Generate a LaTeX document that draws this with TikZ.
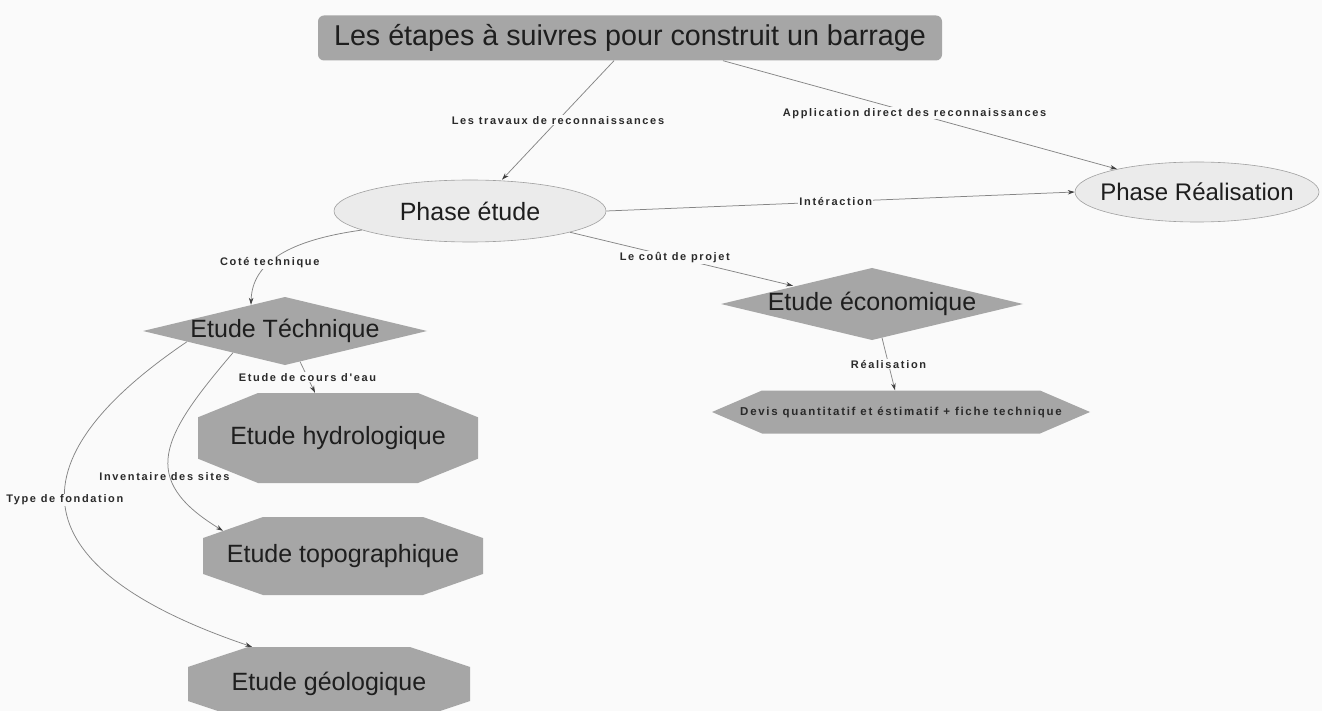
\documentclass[tikz,border=0pt]{standalone}
\usepackage{fontspec}
\setmainfont{Liberation Sans}
\newfontfamily\lblfont[LetterSpace=15]{Liberation Sans}
\usetikzlibrary{shapes.geometric,arrows.meta,calc}
\definecolor{bgc}{HTML}{FAFAFA}
\definecolor{boxfill}{HTML}{A6A6A6}
\definecolor{ellfill}{HTML}{EBEBEB}
\definecolor{ellline}{HTML}{A0A0A0}
\definecolor{linec}{HTML}{858585}
\definecolor{tipc}{HTML}{404040}
\definecolor{txt}{HTML}{1E1E1E}
\definecolor{lbltxt}{HTML}{2A2A2A}
\begin{document}
\begin{tikzpicture}[x=1pt,y=-1pt,
  every node/.style={inner sep=0pt, text=txt},
  bigtxt/.style={font=\fontsize{25}{28}\selectfont},
  ph/.style={ellipse, draw=ellline, line width=0.6pt, fill=ellfill, bigtxt},
  polybox/.style={rectangle, bigtxt},
  diam/.style={polybox, path picture={
    \fill[boxfill] (path picture bounding box.north) -- (path picture bounding box.east)
      -- (path picture bounding box.south) -- (path picture bounding box.west) -- cycle;}},
  octo/.style={polybox, path picture={
    \fill[boxfill] ([xshift=60pt]path picture bounding box.north west)
      -- ([xshift=-60pt]path picture bounding box.north east)
      -- ($(path picture bounding box.north east)!0.27!(path picture bounding box.south east)$)
      -- ($(path picture bounding box.north east)!0.73!(path picture bounding box.south east)$)
      -- ([xshift=-60pt]path picture bounding box.south east)
      -- ([xshift=60pt]path picture bounding box.south west)
      -- ($(path picture bounding box.north west)!0.73!(path picture bounding box.south west)$)
      -- ($(path picture bounding box.north west)!0.27!(path picture bounding box.south west)$)
      -- cycle;}},
  hexa/.style={rectangle, path picture={
    \fill[boxfill] ([xshift=50pt]path picture bounding box.north west)
      -- ([xshift=-50pt]path picture bounding box.north east)
      -- (path picture bounding box.east)
      -- ([xshift=-50pt]path picture bounding box.south east)
      -- ([xshift=50pt]path picture bounding box.south west)
      -- (path picture bounding box.west) -- cycle;}},
  conn/.style={draw=linec, line width=0.75pt, -{Stealth[length=7pt,width=4.5pt,color=tipc]}},
  lbl/.style={font=\lblfont\bfseries\fontsize{11}{13}\selectfont, text=lbltxt, fill=bgc, inner sep=1pt},
]
\useasboundingbox (0,0) rectangle (1322,711);
\clip (0,0) rectangle (1322,711);
\fill[bgc] (0,0) rectangle (1322,711);

% nodes
\node[rectangle, rounded corners=6pt, fill=boxfill, minimum width=624pt, minimum height=45pt,
      font=\fontsize{28.7}{32}\selectfont] (title) at (630,38) {Les étapes à suivres pour construit un barrage};
\node[ph, minimum width=272pt, minimum height=62pt] (etude) at (470,211) {\makebox[0pt]{Phase étude}};
\node[ph, minimum width=244pt, minimum height=60pt, font=\fontsize{24}{28}\selectfont] (real) at (1197,192) {\makebox[0pt]{Phase Réalisation}};
\node[diam, minimum width=284pt, minimum height=68pt] (tech) at (285,331) {Etude Téchnique};
\node[diam, minimum width=302pt, minimum height=72pt] (eco) at (872,304) {Etude économique};
\node[hexa, minimum width=378pt, minimum height=43pt, text=lbltxt,
      font=\lblfont\bfseries\fontsize{11.5}{13}\selectfont] (devis) at (901,412) {Devis quantitatif et éstimatif + fiche technique};
\node[octo, minimum width=280pt, minimum height=90pt] (hydro) at (338,438) {Etude hydrologique};
\node[octo, minimum width=280pt, minimum height=78pt] (topo) at (343,556) {Etude topographique};
\node[octo, minimum width=282pt, minimum height=74pt] (geo) at (329,684) {Etude géologique};

% connectors
\draw[conn] ([xshift=-16pt]title.south) -- node[lbl, pos=0.5] {Les travaux de reconnaissances} ([xshift=32pt]etude.north);
\draw[conn] ([xshift=93pt]title.south) -- node[lbl, pos=0.486] {Application direct des reconnaissances} (real.164);
\draw[conn] (etude.east) -- node[lbl, pos=0.49] {Intéraction} (real.west);
\draw[conn] (etude.-12) -- node[lbl, pos=0.47] {Le coût de projet} ([xshift=-79pt,yshift=-18pt]eco.north);
\draw[conn] (etude.190) .. controls (290,240) and (252,262) .. ([xshift=-34pt,yshift=-8pt]tech.north)
      node[lbl, pos=0.6] {Coté technique};
\draw[conn] ([xshift=10pt,yshift=2.4pt]eco.south) -- node[lbl] {Réalisation} ([xshift=-6pt]devis.north);
\draw[conn] ([xshift=15pt,yshift=3.6pt]tech.south) -- node[lbl] {Etude de cours d'eau} ([xshift=-23pt]hydro.north);
\draw[conn] ([xshift=-52pt,yshift=12.5pt]tech.south) .. controls (161,437) and (138,479) .. ([xshift=-120pt,yshift=-14pt]topo.north)
      node[lbl, fill=none, pos=0.64, xshift=-6pt] {Inventaire des sites};
\draw[conn] ([xshift=-98pt,yshift=23.5pt]tech.south) .. controls (-4,471) and (37,574) .. ([xshift=-77pt]geo.north)
      node[lbl, pos=0.45] {Type de fondation};
\end{tikzpicture}
\end{document}
